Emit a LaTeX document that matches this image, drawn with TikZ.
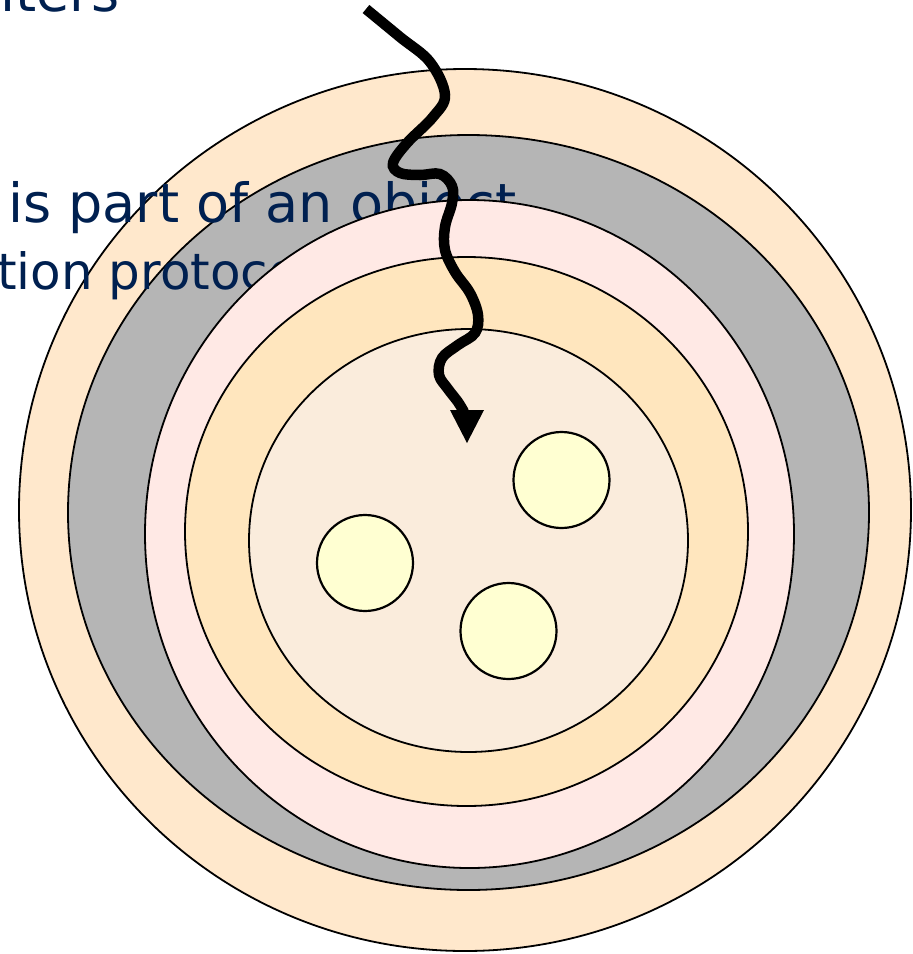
\documentclass[tikz,border=0pt]{standalone}
\usepackage{fontspec}
\newfontfamily\slidefont{DejaVu Sans}
\usetikzlibrary{math}
\definecolor{textblue}{RGB}{0,32,80}
\definecolor{shellpeach}{RGB}{255,232,204}
\definecolor{shellgray}{RGB}{181,181,181}
\definecolor{shellpink}{RGB}{255,233,229}
\definecolor{shellorange}{RGB}{255,230,190}
\definecolor{shellcore}{RGB}{250,236,220}
\definecolor{cellyellow}{RGB}{255,255,210}

\begin{document}
\begin{tikzpicture}[x=1pt,y=-1pt,
  shell/.style={draw=black, line width=1.8pt},
  cell/.style={draw=black, line width=2.2pt, fill=cellyellow},
  slidetext/.style={inner sep=0pt, text=textblue, font=\slidefont\fontsize{54}{60}\selectfont}]
\tikzmath{
\r=48;
}
\useasboundingbox (0,0) rectangle (913,954);
\clip (0,0) rectangle (913,954);

\node[slidetext, anchor=base east] (filters) at (120,11) {Filters};

% nested shells, with the text lines in between
\filldraw[shell, fill=shellpeach] (465,510) ellipse [x radius=446pt, y radius=441pt];
\filldraw[shell, fill=shellgray] (468.5,512.5) ellipse [x radius=400.5pt, y radius=377.5pt];
\node[slidetext, anchor=base west] (objline) at (8,222) {is part of an object};
\node[slidetext, anchor=base west, font=\slidefont\fontsize{50}{58}\selectfont] (protoline) at (-3,289) {tion protocol};
\filldraw[shell, fill=shellpink] (469.5,534) ellipse [x radius=324.5pt, y radius=334pt];
\filldraw[shell, fill=shellorange] (466.5,531.5) ellipse [x radius=281.5pt, y radius=274.5pt];
\filldraw[shell, fill=shellcore] (468.5,540.5) ellipse [x radius=219.5pt, y radius=211.5pt];

% cells in the core
\foreach \cx/\cy in {365/563, 561.5/480, 508.5/631}{
  \filldraw[cell] (\cx,\cy) circle (\r pt);
}

% wavy call into the core
\draw[line width=10.5pt] plot[smooth, tension=0.6] coordinates {(366,9) (400,37) (430,62) (445,95) (433,117) (407,143) (393,163) (400,173) (420,175) (440,174) (452,186) (452,203) (445,227) (445,250) (455,272) (470,293) (478,315) (475,333) (458,345) (442,358) (439,375) (448,389) (458,402) (464,412)};
\fill (450,410) -- (484,410) -- (467,443) -- cycle;
\end{tikzpicture}
\end{document}
